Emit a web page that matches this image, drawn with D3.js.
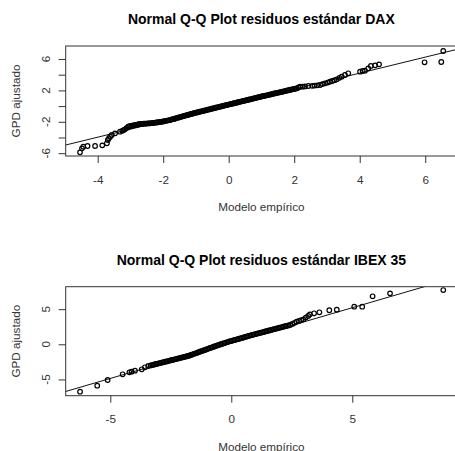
<!DOCTYPE html>
<html>
<head>
<meta charset="utf-8">
<script src="https://cdn.jsdelivr.net/npm/d3@7"></script>
<style>
  body { margin: 0; background: #fff; }
  svg { display: block; font-family: 'Liberation Sans', Arial, sans-serif; }
  .box { fill: none; stroke: #333; stroke-width: 1; }
  .pt { fill: none; stroke: #000; stroke-width: 1.2; }
  .refline { stroke: #111; stroke-width: 1; fill: none; }
  .axis line { stroke: #333; }
  .lbl { fill: #333; font-size: 11.7px; }
  .ttl { fill: #000; font-size: 14px; font-weight: bold; }
</style>
</head>
<body>
<svg id="qq" width="455" height="451"></svg>
<script>
"use strict";

// DAX: empirical quantile vs fitted GPD quantile
var daxPoints = [
  [-4.54, -5.89], [-4.48, -5.38], [-4.44, -5.17], [-4.31, -5.08], [-4.08, -5.08],
  [-3.86, -5.00], [-3.72, -4.74], [-3.69, -4.32], [-3.66, -4.10], [-3.62, -3.90],
  [-3.57, -3.68], [-3.47, -3.47], [-3.32, -3.26], [-3.25, -3.15], [-3.21, -3.05],
  [-3.17, -2.96], [-3.12, -2.80], [-3.07, -2.62], [-3.03, -2.57], [-2.98, -2.52],
  [-2.95, -2.49], [-2.91, -2.45], [-2.87, -2.42], [-2.83, -2.38], [-2.79, -2.35],
  [-2.75, -2.31], [-2.71, -2.28], [-2.67, -2.27], [-2.63, -2.26], [-2.59, -2.24],
  [-2.55, -2.23], [-2.51, -2.22], [-2.47, -2.21], [-2.43, -2.20], [-2.40, -2.19],
  [-2.36, -2.17], [-2.32, -2.15], [-2.28, -2.13], [-2.24, -2.11], [-2.20, -2.08],
  [-2.16, -2.06], [-2.12, -2.04], [-2.08, -2.02], [-2.04, -1.98], [-2.00, -1.95],
  [-1.96, -1.91], [-1.92, -1.88], [-1.88, -1.85], [-1.84, -1.81], [-1.79, -1.77],
  [-1.75, -1.72], [-1.71, -1.67], [-1.67, -1.63], [-1.63, -1.58], [-1.59, -1.53],
  [-1.55, -1.48], [-1.51, -1.43], [-1.47, -1.39], [-1.43, -1.34], [-1.39, -1.29],
  [-1.35, -1.24], [-1.31, -1.19], [-1.27, -1.15], [-1.23, -1.10], [-1.19, -1.05],
  [-1.15, -1.00], [-1.11, -0.96], [-1.08, -0.92], [-1.04, -0.88], [-1.00, -0.84],
  [-0.96, -0.80], [-0.92, -0.75], [-0.88, -0.71], [-0.84, -0.67], [-0.80, -0.63],
  [-0.76, -0.59], [-0.72, -0.55], [-0.68, -0.51], [-0.64, -0.46], [-0.60, -0.42],
  [-0.56, -0.38], [-0.52, -0.34], [-0.48, -0.30], [-0.44, -0.26], [-0.40, -0.21],
  [-0.36, -0.17], [-0.32, -0.13], [-0.28, -0.09], [-0.24, -0.05], [-0.20, -0.01],
  [-0.16, 0.03], [-0.12, 0.08], [-0.08, 0.12], [-0.04, 0.16], [0.00, 0.20],
  [0.04, 0.24], [0.08, 0.28], [0.12, 0.32], [0.16, 0.36], [0.20, 0.40],
  [0.24, 0.44], [0.28, 0.49], [0.32, 0.53], [0.36, 0.57], [0.40, 0.61],
  [0.44, 0.65], [0.48, 0.69], [0.52, 0.73], [0.56, 0.77], [0.60, 0.81],
  [0.64, 0.85], [0.68, 0.89], [0.72, 0.93], [0.76, 0.98], [0.80, 1.02],
  [0.84, 1.06], [0.88, 1.10], [0.92, 1.14], [0.96, 1.18], [1.00, 1.22],
  [1.04, 1.26], [1.08, 1.30], [1.12, 1.34], [1.16, 1.37], [1.20, 1.41],
  [1.24, 1.45], [1.28, 1.49], [1.32, 1.53], [1.36, 1.57], [1.40, 1.61],
  [1.44, 1.65], [1.48, 1.69], [1.52, 1.72], [1.56, 1.76], [1.60, 1.80],
  [1.64, 1.84], [1.68, 1.88], [1.72, 1.92], [1.76, 1.96], [1.80, 2.00],
  [1.84, 2.04], [1.88, 2.08], [1.92, 2.11], [1.96, 2.15], [2.00, 2.19],
  [2.04, 2.23], [2.08, 2.27], [2.13, 2.37], [2.18, 2.47], [2.26, 2.48],
  [2.33, 2.50], [2.43, 2.56], [2.55, 2.58], [2.62, 2.62], [2.70, 2.64],
  [2.79, 2.69], [2.86, 2.80], [2.94, 2.90], [3.02, 3.00], [3.09, 3.11],
  [3.16, 3.20], [3.23, 3.30], [3.30, 3.41], [3.38, 3.60], [3.45, 3.75],
  [3.55, 3.96], [3.65, 4.18], [4.01, 4.38], [4.09, 4.47], [4.16, 4.51],
  [4.26, 4.81], [4.34, 5.11], [4.47, 5.19], [4.59, 5.32], [5.98, 5.58],
  [6.49, 5.62], [6.55, 7.02]
];
var daxLine = [[-5, -4.98], [7, 7.26]];
var daxXTicks = [-4, -2, 0, 2, 4, 6];
var daxYTicks = [-6, -4, -2, 0, 2, 4, 6];
var daxYLabels = [-6, -2, 2, 6];

// IBEX 35
var ibexPoints = [
  [-6.25, -6.74], [-5.54, -5.89], [-5.11, -5.08], [-4.49, -4.27], [-4.21, -3.98],
  [-4.12, -3.89], [-3.98, -3.75], [-3.70, -3.56], [-3.57, -3.27], [-3.43, -3.09],
  [-3.33, -3.00], [-3.27, -2.95], [-3.21, -2.90], [-3.15, -2.84], [-3.09, -2.79],
  [-3.03, -2.74], [-2.97, -2.69], [-2.91, -2.64], [-2.85, -2.58], [-2.79, -2.53],
  [-2.73, -2.48], [-2.67, -2.43], [-2.61, -2.38], [-2.55, -2.32], [-2.49, -2.27],
  [-2.43, -2.22], [-2.37, -2.17], [-2.31, -2.12], [-2.25, -2.06], [-2.19, -2.01],
  [-2.13, -1.96], [-2.07, -1.91], [-2.01, -1.86], [-1.95, -1.81], [-1.89, -1.75],
  [-1.83, -1.70], [-1.78, -1.66], [-1.72, -1.58], [-1.66, -1.51], [-1.60, -1.43],
  [-1.54, -1.36], [-1.48, -1.28], [-1.42, -1.21], [-1.36, -1.13], [-1.30, -1.06],
  [-1.24, -0.98], [-1.18, -0.91], [-1.12, -0.83], [-1.06, -0.76], [-1.00, -0.68],
  [-0.94, -0.61], [-0.88, -0.53], [-0.82, -0.46], [-0.76, -0.38], [-0.70, -0.31],
  [-0.64, -0.23], [-0.58, -0.16], [-0.52, -0.09], [-0.46, -0.02], [-0.40, 0.04],
  [-0.34, 0.11], [-0.28, 0.18], [-0.22, 0.25], [-0.16, 0.32], [-0.10, 0.39],
  [-0.04, 0.45], [0.02, 0.50], [0.08, 0.56], [0.14, 0.62], [0.20, 0.67],
  [0.26, 0.73], [0.32, 0.79], [0.38, 0.85], [0.44, 0.91], [0.50, 0.97],
  [0.56, 1.03], [0.62, 1.09], [0.68, 1.15], [0.74, 1.21], [0.80, 1.27],
  [0.86, 1.33], [0.92, 1.38], [0.98, 1.44], [1.04, 1.49], [1.10, 1.55],
  [1.16, 1.60], [1.22, 1.66], [1.28, 1.71], [1.34, 1.76], [1.40, 1.82],
  [1.46, 1.87], [1.52, 1.93], [1.58, 1.98], [1.64, 2.04], [1.70, 2.09],
  [1.76, 2.15], [1.82, 2.20], [1.88, 2.26], [1.94, 2.31], [2.00, 2.36],
  [2.06, 2.42], [2.12, 2.47], [2.18, 2.53], [2.24, 2.58], [2.30, 2.63],
  [2.36, 2.69], [2.43, 2.75], [2.52, 2.90], [2.61, 3.06], [2.70, 3.22],
  [2.80, 3.32], [2.89, 3.44], [2.98, 3.55], [3.08, 3.80], [3.18, 4.03],
  [3.25, 4.26], [3.42, 4.41], [3.64, 4.55], [4.05, 4.84], [4.36, 4.93],
  [5.08, 5.35], [5.41, 5.35], [5.84, 6.83], [6.56, 7.25], [8.76, 7.72]
];
var ibexLine = [[-7, -6.87], [9.5, 9.73]];
var ibexXTicks = [-5, 0, 5];
var ibexYTicks = [-5, 0, 5];
var ibexYLabels = [-5, 0, 5];

function _fmt(d) {
  return d < 0 ? '-' + Math.abs(d) : String(d);
}

function _draw_qq(svg, p) {
  var g = svg.append('g');
  var X = d3.scaleLinear().domain(p.xdom).range([p.left, p.right]);
  var Y = d3.scaleLinear().domain(p.ydom).range([p.bottom, p.top]);

  var clipId = 'clip-' + p.id;
  svg.append('clipPath').attr('id', clipId)
    .append('rect')
    .attr('x', p.left).attr('y', p.top)
    .attr('width', p.right - p.left).attr('height', p.bottom - p.top);

  // fitted reference line, clipped to the plot box
  g.append('path')
    .datum(p.line)
    .attr('class', 'refline')
    .attr('clip-path', 'url(#' + clipId + ')')
    .attr('d', d3.line().x(d => X(d[0])).y(d => Y(d[1])));

  g.append('g')
    .selectAll('circle')
    .data(p.points)
    .join('circle')
    .attr('class', 'pt')
    .attr('cx', d => X(d[0]))
    .attr('cy', d => Y(d[1]))
    .attr('r', 2.3);

  g.append('rect')
    .attr('class', 'box')
    .attr('x', p.left).attr('y', p.top)
    .attr('width', p.right - p.left).attr('height', p.bottom - p.top);

  // x axis: ticks only, the box supplies the line
  var xaxis = d3.axisBottom(X).tickValues(p.xticks).tickSize(7).tickFormat(_fmt);
  var gx = g.append('g')
    .attr('class', 'axis')
    .attr('transform', 'translate(0,' + p.bottom + ')')
    .call(xaxis)
    .attr('font-size', null).attr('font-family', null);
  gx.select('.domain').remove();
  gx.selectAll('text')
    .attr('class', 'lbl')
    .attr('fill', null)
    .attr('y', 0)
    .attr('dy', 27.5);

  var yaxis = d3.axisLeft(Y).tickValues(p.yticks).tickSize(7).tickFormat('');
  var gy = g.append('g')
    .attr('class', 'axis')
    .attr('transform', 'translate(' + p.left + ',0)')
    .call(yaxis);
  gy.select('.domain').remove();

  g.append('g')
    .selectAll('text')
    .data(p.ylabels)
    .join('text')
    .attr('class', 'lbl')
    .attr('text-anchor', 'middle')
    .attr('transform', d => 'translate(50,' + Y(d) + ') rotate(-90)')
    .text(_fmt);

  g.append('text')
    .attr('class', 'ttl')
    .attr('text-anchor', 'middle')
    .attr('x', (p.left + p.right) / 2)
    .attr('y', p.top - 22)
    .text(p.title);

  g.append('text')
    .attr('class', 'lbl')
    .attr('text-anchor', 'middle')
    .attr('x', (p.left + p.right) / 2)
    .attr('y', p.bottom + 55)
    .text('Modelo empírico');

  g.append('text')
    .attr('class', 'lbl')
    .attr('text-anchor', 'middle')
    .attr('transform', 'translate(20,' + (p.top + p.bottom) / 2 + ') rotate(-90)')
    .text('GPD ajustado');
}

function init_plot() {
  var svg = d3.select('#qq');

  _draw_qq(svg, {
    id: 'dax',
    title: 'Normal Q-Q Plot residuos estándar DAX',
    left: 65.7, right: 457, top: 46, bottom: 156,
    xdom: [-4.977, 6.97], ydom: [-6.357, 7.656],
    points: daxPoints, line: daxLine,
    xticks: daxXTicks, yticks: daxYTicks, ylabels: daxYLabels
  });

  _draw_qq(svg, {
    id: 'ibex',
    title: 'Normal Q-Q Plot residuos estándar IBEX 35',
    left: 65.7, right: 457, top: 286.7, bottom: 395.7,
    xdom: [-6.843, 9.327], ydom: [-7.312, 8.193],
    points: ibexPoints, line: ibexLine,
    xticks: ibexXTicks, yticks: ibexYTicks, ylabels: ibexYLabels
  });
}

init_plot();
</script>
</body>
</html>
